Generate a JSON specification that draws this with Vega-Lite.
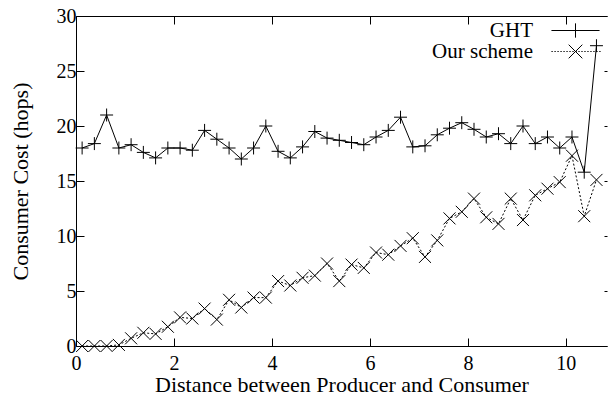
{
  "$schema": "https://vega.github.io/schema/vega-lite/v6.json",
  "width": 531,
  "height": 330,
  "autosize": {"type": "none"},
  "padding": {"left": 76, "top": 16, "right": 1, "bottom": 51},
  "background": "white",
  "config": {
    "view": {"stroke": null},
    "font": "Liberation Serif",
    "axis": {
      "grid": false,
      "domainColor": "black",
      "tickColor": "black",
      "labelColor": "black",
      "titleColor": "black",
      "labelFont": "Liberation Serif",
      "titleFont": "Liberation Serif",
      "labelFontSize": 20,
      "titleFontSize": 22,
      "titleFontWeight": "normal",
      "domainWidth": 1,
      "tickWidth": 1
    }
  },
  "data": {
    "values": [
      {"x": 0.125, "GHT": 18.0, "Our scheme": 0},
      {"x": 0.375, "GHT": 18.4, "Our scheme": 0},
      {"x": 0.625, "GHT": 21.0, "Our scheme": 0},
      {"x": 0.875, "GHT": 18.0, "Our scheme": 0.1},
      {"x": 1.125, "GHT": 18.3, "Our scheme": 0.7},
      {"x": 1.375, "GHT": 17.6, "Our scheme": 1.2},
      {"x": 1.625, "GHT": 17.1, "Our scheme": 1.1},
      {"x": 1.875, "GHT": 18.0, "Our scheme": 1.75},
      {"x": 2.125, "GHT": 18.0, "Our scheme": 2.6},
      {"x": 2.375, "GHT": 17.8, "Our scheme": 2.5},
      {"x": 2.625, "GHT": 19.6, "Our scheme": 3.4},
      {"x": 2.875, "GHT": 18.8, "Our scheme": 2.4},
      {"x": 3.125, "GHT": 18.0, "Our scheme": 4.2},
      {"x": 3.375, "GHT": 17.0, "Our scheme": 3.5},
      {"x": 3.625, "GHT": 18.0, "Our scheme": 4.4},
      {"x": 3.875, "GHT": 20.0, "Our scheme": 4.4},
      {"x": 4.125, "GHT": 17.7, "Our scheme": 5.9},
      {"x": 4.375, "GHT": 17.1, "Our scheme": 5.5},
      {"x": 4.625, "GHT": 18.1, "Our scheme": 6.2},
      {"x": 4.875, "GHT": 19.5, "Our scheme": 6.4},
      {"x": 5.125, "GHT": 18.9, "Our scheme": 7.5},
      {"x": 5.375, "GHT": 18.7, "Our scheme": 5.9},
      {"x": 5.625, "GHT": 18.5, "Our scheme": 7.4},
      {"x": 5.875, "GHT": 18.3, "Our scheme": 7.1},
      {"x": 6.125, "GHT": 19.0, "Our scheme": 8.5},
      {"x": 6.375, "GHT": 19.6, "Our scheme": 8.3},
      {"x": 6.625, "GHT": 20.8, "Our scheme": 9.1},
      {"x": 6.875, "GHT": 18.1, "Our scheme": 9.8},
      {"x": 7.125, "GHT": 18.2, "Our scheme": 8.1},
      {"x": 7.375, "GHT": 19.2, "Our scheme": 9.6},
      {"x": 7.625, "GHT": 19.8, "Our scheme": 11.6},
      {"x": 7.875, "GHT": 20.3, "Our scheme": 12.2},
      {"x": 8.125, "GHT": 19.7, "Our scheme": 13.4},
      {"x": 8.375, "GHT": 19.0, "Our scheme": 11.7},
      {"x": 8.625, "GHT": 19.3, "Our scheme": 11.1},
      {"x": 8.875, "GHT": 18.4, "Our scheme": 13.4},
      {"x": 9.125, "GHT": 20.0, "Our scheme": 11.45},
      {"x": 9.375, "GHT": 18.4, "Our scheme": 13.7},
      {"x": 9.625, "GHT": 19.0, "Our scheme": 14.3},
      {"x": 9.875, "GHT": 18.0, "Our scheme": 14.9},
      {"x": 10.125, "GHT": 19.0, "Our scheme": 17.3},
      {"x": 10.375, "GHT": 15.8, "Our scheme": 11.8},
      {"x": 10.625, "GHT": 27.3, "Our scheme": 15.1}
    ]
  },
  "transform": [{"fold": ["GHT", "Our scheme"], "as": ["series", "y"]}],
  "layer": [
    {
      "transform": [{"filter": "datum.series === 'GHT'"}],
      "mark": {"type": "line", "color": "black", "strokeWidth": 1},
      "encoding": {
        "x": {
          "field": "x", "type": "quantitative",
          "scale": {"domain": [0, 10.84], "nice": false},
          "axis": {
            "orient": "bottom",
            "values": [0, 2, 4, 6, 8, 10],
            "tickSize": -8,
            "labelPadding": 15,
            "labelFlush": false,
            "title": "Distance between Producer and Consumer",
            "titlePadding": 1
          }
        },
        "y": {
          "field": "y", "type": "quantitative",
          "scale": {"domain": [0, 30], "nice": false},
          "axis": {
            "orient": "left",
            "values": [0, 5, 10, 15, 20, 25, 30],
            "tickSize": -8,
            "labelPadding": 8,
            "labelFlush": false,
            "title": "Consumer Cost (hops)",
            "titlePadding": 24
          }
        }
      }
    },
    {
      "transform": [{"filter": "datum.series === 'Our scheme'"}],
      "mark": {"type": "line", "color": "black", "strokeWidth": 1, "strokeDash": [2, 2]},
      "encoding": {
        "x": {"field": "x", "type": "quantitative", "axis": null},
        "y": {"field": "y", "type": "quantitative", "axis": null}
      }
    },
    {
      "mark": {"type": "point", "filled": false, "stroke": "black", "strokeWidth": 1, "opacity": 1, "size": 144},
      "encoding": {
        "x": {
          "field": "x", "type": "quantitative",
          "axis": {
            "orient": "top",
            "values": [0, 2, 4, 6, 8, 10],
            "labels": false,
            "tickSize": -8,
            "title": null
          }
        },
        "y": {
          "field": "y", "type": "quantitative",
          "axis": {
            "orient": "right",
            "values": [0, 5, 10, 15, 20, 25, 30],
            "labels": false,
            "domain": false,
            "tickSize": -3,
            "title": null
          }
        },
        "shape": {
          "condition": {"test": "datum.series === 'GHT'", "value": "M-1.08,0H1.08M0,-1.08V1.08"},
          "value": "M-1,-1L1,1M-1,1L1,-1"
        }
      }
    },
    {
      "transform": [{"filter": "false"}],
      "mark": {"type": "point", "filled": false, "stroke": "black", "strokeWidth": 1, "opacity": 1, "size": 169},
      "encoding": {
        "x": {"field": "x", "type": "quantitative", "axis": null},
        "y": {"field": "y", "type": "quantitative", "axis": null},
        "shape": {
          "field": "series", "type": "nominal",
          "scale": {
            "domain": ["GHT", "Our scheme"],
            "range": [
              "M-3.7,0H3.7M0,-1.1V1.1",
              "M-3.7,0h0.2M-3.24,0h0.2M-2.78,0h0.2M-2.32,0h0.2M-1.86,0h0.2M-1.4,0h0.2M-0.94,0h0.2M-0.48,0h0.2M-0.02,0h0.2M0.44,0h0.2M0.9,0h0.2M1.36,0h0.2M1.82,0h0.2M2.28,0h0.2M2.74,0h0.2M3.2,0h0.2M3.66,0h0.2M-1.05,-1.05L1.05,1.05M-1.05,1.05L1.05,-1.05"
            ]
          },
          "legend": {
            "orient": "none",
            "legendX": 489,
            "legendY": 4,
            "title": null,
            "padding": 0,
            "labelFont": "Liberation Serif",
            "labelFontSize": 21,
            "labelColor": "black",
            "labelAlign": "right",
            "labelOffset": -53,
            "symbolSize": 169,
            "rowPadding": -10,
            "symbolStrokeWidth": 1,
            "symbolStrokeColor": "black",
            "symbolFillColor": "transparent",
            "symbolOpacity": 1
          }
        }
      }
    }
  ],
  "resolve": {"axis": {"x": "independent", "y": "independent"}}
}
